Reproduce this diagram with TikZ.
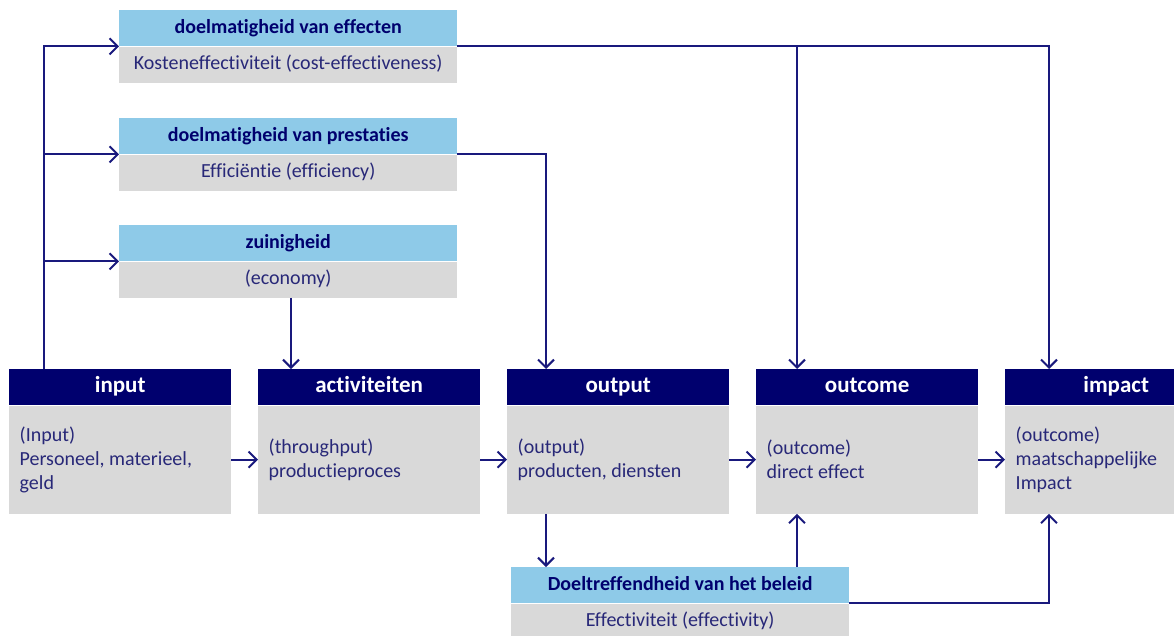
\documentclass[tikz,border=0pt]{standalone}
\usepackage{fontspec}
\setmainfont{Carlito}[RawFeature={-liga;-clig;-dlig}]
\usetikzlibrary{arrows.meta}
\definecolor{navy}{RGB}{0,0,110}
\definecolor{lblue}{RGB}{142,202,232}
\definecolor{lgray}{RGB}{217,217,217}
\definecolor{lnc}{RGB}{25,25,125}
\definecolor{txt}{RGB}{40,40,120}
\frenchspacing
\begin{document}
\begin{tikzpicture}[x=1pt,y=-1pt,
  darkhdr/.style={fill=navy, text=white, font=\fontsize{23}{26}\selectfont\bfseries,
    minimum width=222pt, minimum height=36pt, inner sep=0pt, anchor=north west,
    text height=16pt, text depth=5pt},
  darkbody/.style={fill=lgray, text=txt, font=\fontsize{20}{24}\selectfont,
    text width=201pt, inner xsep=10.5pt, inner ysep=0pt, align=flush left,
    minimum height=108pt, anchor=north west},
  lighthdr/.style={fill=lblue, text=navy, font=\fontsize{20}{24}\selectfont\bfseries,
    minimum width=338pt, minimum height=36pt, inner sep=0pt, anchor=north west,
    text height=14pt, text depth=4pt},
  lightbody/.style={fill=lgray, text=txt, font=\fontsize{20}{24}\selectfont,
    minimum width=338pt, minimum height=36pt, inner sep=0pt, anchor=north west,
    text height=14pt, text depth=4pt},
  conn/.style={draw=lnc, line width=2pt, -{Straight Barb[length=8pt,width=16pt]}}
]
\useasboundingbox (0,0) rectangle (1174,635);
\fill[white] (0,0) rectangle (1174,635);

% top boxes
\node[lighthdr] (effH) at (119,10) {doelmatigheid van effecten};
\node[lightbody] (effB) at (effH.south west) {Kosteneffectiviteit (cost-effectiveness)};
\node[lighthdr] (effiH) at (119,118) {doelmatigheid van prestaties};
\node[lightbody] (effiB) at (effiH.south west) {Efficiëntie (efficiency)};
\node[lighthdr] (zuiH) at (119,225) {zuinigheid};
\node[lightbody] (zuiB) at (zuiH.south west) {(economy)};

% main chain
\node[darkhdr] (inH) at (9,369) {input};
\node[darkbody] (inB) at (inH.south west) {(Input)\\Personeel, materieel,\\geld};
\node[darkhdr] (actH) at (258,369) {activiteiten};
\node[darkbody] (actB) at (actH.south west) {(throughput)\\productieproces};
\node[darkhdr] (outH) at (507,369) {output};
\node[darkbody] (outB) at (outH.south west) {(output)\\producten, diensten};
\node[darkhdr] (ocH) at (756,369) {outcome};
\node[darkbody] (ocB) at (ocH.south west) {(outcome)\\direct effect};
\node[darkhdr] (impH) at (1005,369) {impact};
\node[darkbody] (impB) at (impH.south west) {(outcome)\\maatschappelijke\\Impact};

% bottom box
\node[lighthdr] (doelH) at (511,567) {Doeltreffendheid van het beleid};
\node[lightbody] (doelB) at (doelH.south west) {Effectiviteit (effectivity)};

% connectors
\draw[conn] ([xshift=35pt]inH.north west) |- (effH.south west);
\draw[conn] ([xshift=35pt]inH.north west) |- (effiH.south west);
\draw[conn] ([xshift=35pt]inH.north west) |- (zuiH.south west);
\draw[conn] (effH.south east) -| ([xshift=41pt]ocH.north west);
\draw[conn] (effH.south east) -| ([xshift=44pt]impH.north west);
\draw[conn] (effiH.south east) -| ([xshift=39pt]outH.north west);
\draw[conn] ([xshift=172pt]zuiB.south west) -- ([xshift=33pt]actH.north west);
\draw[conn] (inB.east) -- (actB.west);
\draw[conn] (actB.east) -- (outB.west);
\draw[conn] (outB.east) -- (ocB.west);
\draw[conn] (ocB.east) -- (impB.west);
\draw[conn] ([xshift=39pt]outB.south west) -- ([xshift=35pt]doelH.north west);
\draw[conn] ([xshift=286pt]doelH.north west) -- ([xshift=41pt]ocB.south west);
\draw[conn] (doelH.south east) -| ([xshift=44pt]impB.south west);
\end{tikzpicture}
\end{document}
